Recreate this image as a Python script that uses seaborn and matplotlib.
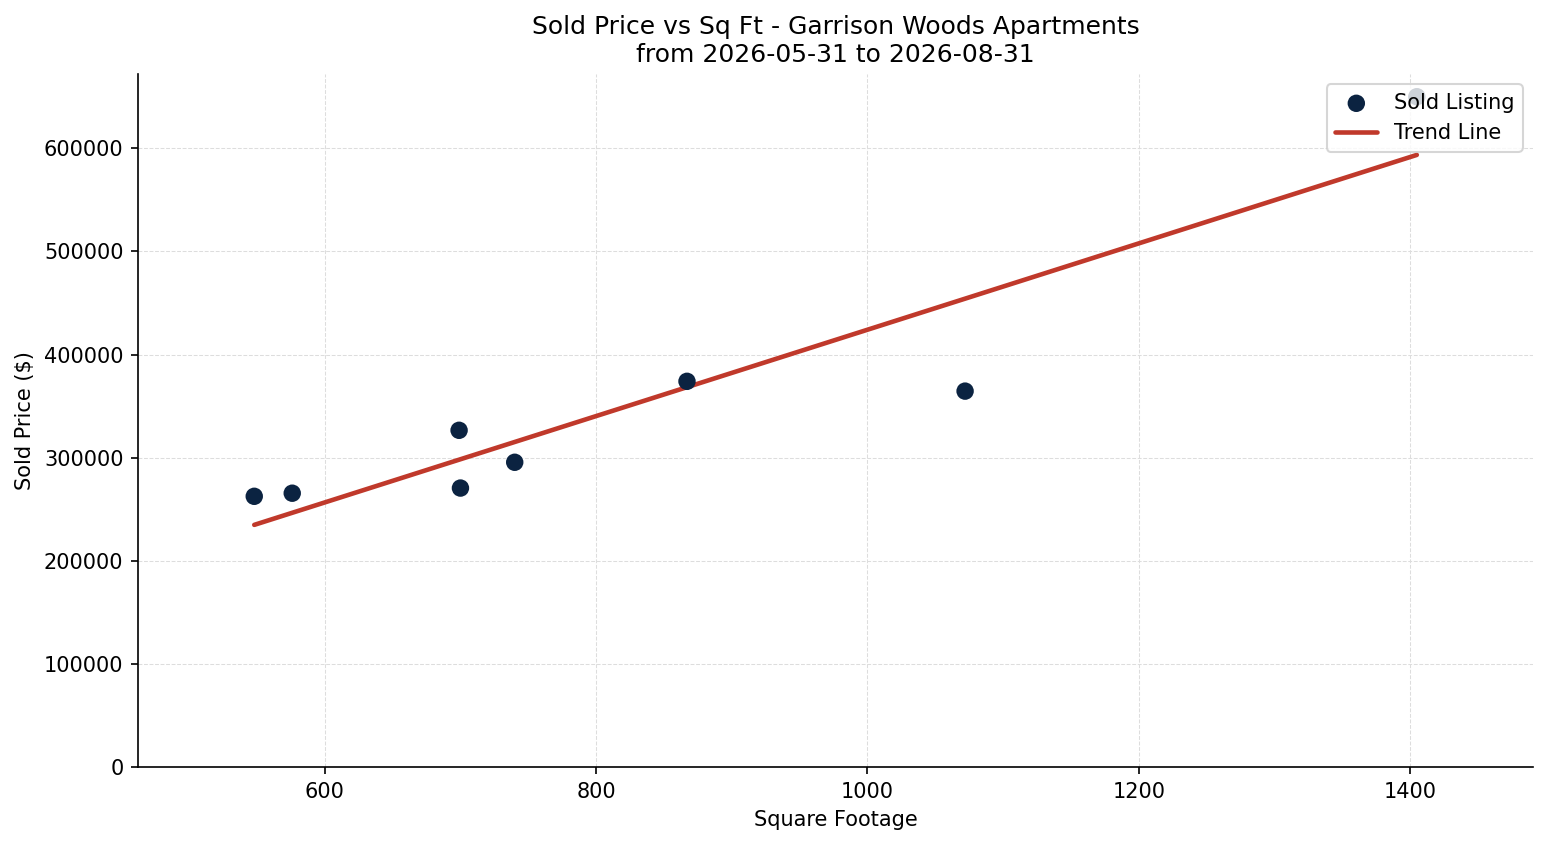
import numpy as np
import pandas as pd
import matplotlib
matplotlib.use("Agg")
import matplotlib.pyplot as plt
import seaborn as sns

# Sold listings
sqft = [548, 576, 699, 700, 740, 867, 1072, 1405]
price = [262500, 265500, 326500, 270500, 295500, 374000, 364500, 650000]

title = "Sold Price vs Sq Ft - Garrison Woods Apartments\nfrom 2026-05-31 to 2026-08-31"

df = pd.DataFrame({"sqft": sqft, "price": price})

# --- Trend line (least squares fit) ---
slope, intercept = np.polyfit(df["sqft"], df["price"], 1)
trend_x = np.array([df["sqft"].min(), df["sqft"].max()])
trend = pd.DataFrame({"sqft": trend_x, "price": slope * trend_x + intercept})

sns.set_style("ticks")
plt.rcParams.update({
    "text.color": "black",
    "axes.labelcolor": "black",
    "axes.edgecolor": "black",
    "xtick.color": "black",
    "ytick.color": "black",
})

fig, ax = plt.subplots(figsize=(1547 / 150, 845 / 150), dpi=150)
fig.subplots_adjust(left=0.0892, right=0.991, top=0.9124, bottom=0.0923)

sns.scatterplot(x="sqft", y="price", data=df, color="#0b2341", s=70,
                edgecolor="none", label="Sold Listing", ax=ax, zorder=3)
sns.lineplot(x="sqft", y="price", data=trend, color="#c0392b", linewidth=2.2,
             label="Trend Line", ax=ax, zorder=2)

rng = df["sqft"].max() - df["sqft"].min()
ax.set_xlim(df["sqft"].min() - 0.1 * rng, df["sqft"].max() + 0.1 * rng)
ax.set_ylim(0, 672000)
ax.set_xticks([600, 800, 1000, 1200, 1400])

ax.grid(True, linestyle="--", linewidth=0.5, color="#dddddd")
ax.set_axisbelow(True)
sns.despine(ax=ax)

ax.set_title(title, fontsize=12)
ax.set_xlabel("Square Footage", fontsize=10)
ax.set_ylabel("Sold Price ($)", fontsize=10)
ax.tick_params(labelsize=10)
ax.legend(loc="upper right", fontsize=10)

plt.savefig("out.png", dpi=150)
